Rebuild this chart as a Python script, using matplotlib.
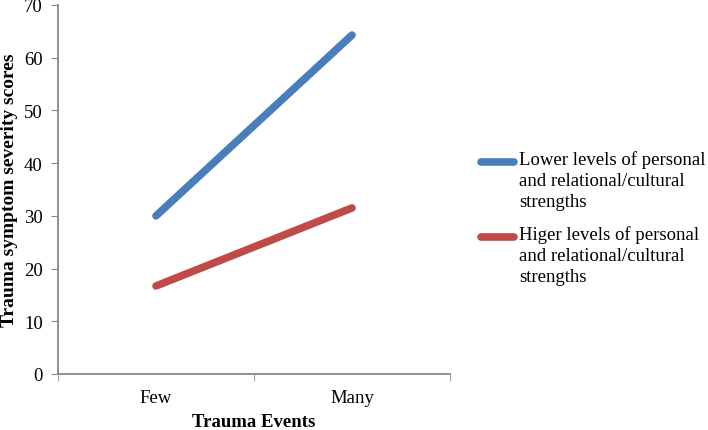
import matplotlib.pyplot as plt
from matplotlib.lines import Line2D

plt.rcParams['font.family'] = ['Liberation Serif', 'DejaVu Serif']

# data
categories = ['Few', 'Many']
lower_strengths = [30.0, 64.3]
higher_strengths = [16.7, 31.5]
labels = ['Lower levels of personal\nand relational/cultural\nstrengths',
          'Higer levels of personal\nand relational/cultural\nstrengths']
colors = ['#4a7ebb', '#be4b48']

W, H = 708, 431
fig = plt.figure(figsize=(W / 100, H / 100), dpi=100)
ax = fig.add_axes([58 / W, 1 - 375 / H, 392 / W, 369 / H])

x = range(len(categories))
for vals, c, lab in zip([lower_strengths, higher_strengths], colors, labels):
    ax.plot(x, vals, color=c, lw=5.5, solid_capstyle='round', label=lab)

ax.set_xlim(-0.5, 1.5)
ax.set_ylim(0, 70)
ax.set_yticks(range(0, 71, 10))
ax.set_xticks(list(x))
ax.set_xticklabels(categories)
ax.set_xticks([-0.5, 0.5, 1.5], minor=True)
ax.tick_params(axis='x', which='major', length=0, pad=11, labelsize=13.5)
ax.tick_params(axis='x', which='minor', length=5, color='#888888')
ax.tick_params(axis='y', length=5, color='#888888', labelsize=13.5, pad=6)

for s in ['top', 'right']:
    ax.spines[s].set_visible(False)
for s in ['left', 'bottom']:
    ax.spines[s].set_color('#888888')
    ax.spines[s].set_linewidth(1.3)

ax.set_xlabel('Trauma Events', fontweight='bold', fontsize=13.5, labelpad=5)
ax.set_ylabel('Trauma symptom severity scores', fontweight='bold', fontsize=14, labelpad=4)

# legend drawn by hand so the key sits next to the first line of each label
for i, (c, lab) in enumerate(zip(colors, labels)):
    yline = 163 + i * 75
    fig.add_artist(Line2D([481 / W, 514 / W], [1 - yline / H] * 2, color=c, lw=5.5,
                          solid_capstyle='round', transform=fig.transFigure))
    fig.text(519 / W, 1 - (yline - 12) / H, lab, fontsize=13.5, va='top',
             ha='left', linespacing=1.32)

fig.savefig('out.png', dpi=100)
